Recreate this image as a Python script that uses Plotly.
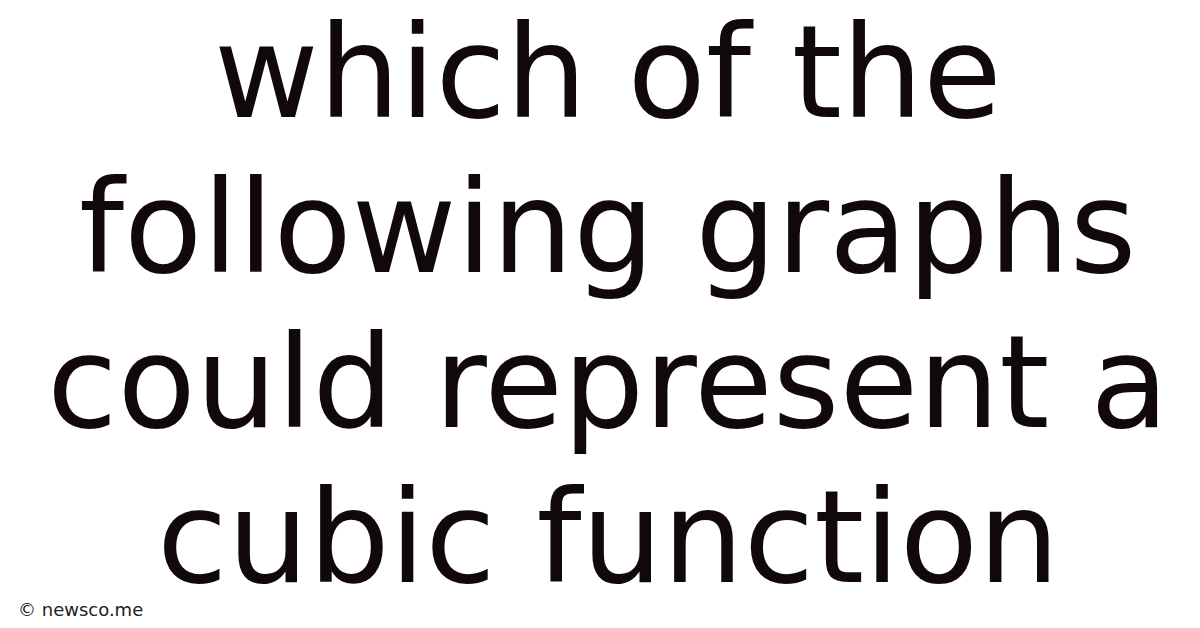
import plotly.graph_objects as go

title_lines = ["which of the", "following graphs", "could represent a", "cubic function"]
line_baselines_px = [119, 274, 429, 584]
watermark = "© newsco.me"

W, H = 1200, 628
FS = 128
TEXT_COLOR = "#110909"

fig = go.Figure()
annotations = []
for txt, base in zip(title_lines, line_baselines_px):
    ymid = base - 0.425 * FS
    annotations.append(dict(
        text=txt, x=0.5, y=1 - ymid / H, xref="paper", yref="paper",
        xanchor="center", yanchor="middle", showarrow=False,
        font=dict(family="DejaVu Sans", size=FS, color=TEXT_COLOR),
    ))
annotations.append(dict(
    text=watermark, x=8 / W, y=1 - 601 / H, xref="paper", yref="paper",
    xanchor="left", yanchor="middle", showarrow=False,
    font=dict(family="DejaVu Sans", size=18, color="#222222"),
))

fig.update_layout(
    width=W, height=H,
    margin=dict(l=0, r=0, t=0, b=0),
    paper_bgcolor="white", plot_bgcolor="white",
    xaxis=dict(visible=False, range=[0, 1]),
    yaxis=dict(visible=False, range=[0, 1]),
    annotations=annotations,
    showlegend=False,
)
fig.write_html("out.html")
